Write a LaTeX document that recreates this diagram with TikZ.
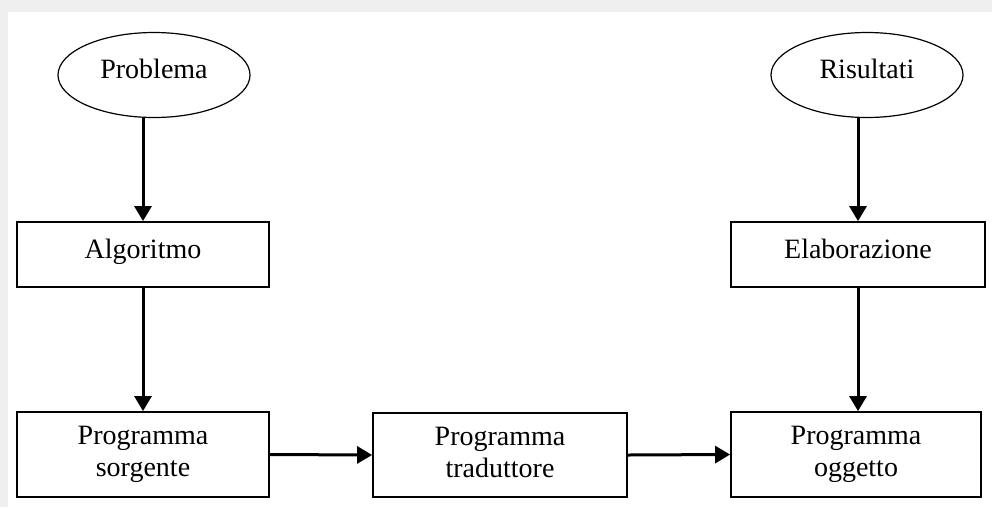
\documentclass[tikz,border=0pt]{standalone}
\usepackage{fontspec}
\setmainfont{Liberation Serif}
\usetikzlibrary{arrows.meta,shapes.geometric}
\definecolor{framegray}{HTML}{EFEFEF}
\tikzset{
  txt/.style={font=\fontsize{28}{32}\selectfont},
  oval/.style={ellipse,draw,line width=1.2pt,minimum width=192pt,minimum height=85pt,inner sep=0pt,txt,text height=14pt,text depth=8pt},
  box/.style={rectangle,draw,line width=1.8pt,inner sep=0pt,align=center,txt},
  onebox/.style={box,text height=14pt,text depth=7pt},
  arr/.style={line width=3pt,-{Triangle[length=15pt,width=17pt]}}
}
\begin{document}
\begin{tikzpicture}[x=1pt,y=-1pt]
\useasboundingbox (0,0) rectangle (992,507);
\fill[framegray] (0,0) rectangle (992,507);
\fill[white] (8,12) rectangle (992,507);
\node[oval] (prob) at (154,75) {Problema};
\node[oval] (ris) at (867,75) {Risultati};
\node[onebox,minimum width=252pt,minimum height=65pt] (alg) at (143,254.5) {Algoritmo};
\node[onebox,minimum width=254pt,minimum height=65pt] (ela) at (858,254.5) {Elaborazione};
\node[box,minimum width=252pt,minimum height=85pt] (sor) at (143,454.5) {\strut Programma\\sorgente\strut};
\node[box,minimum width=254pt,minimum height=84pt] (tra) at (500,455) {\strut Programma\\traduttore\strut};
\node[box,minimum width=250pt,minimum height=85pt] (ogg) at (856,454.5) {\strut Programma\\oggetto\strut};
\draw[arr] (alg.north |- prob.south) -- (alg.north);
\draw[arr] (ela.north |- ris.south) -- (ela.north);
\draw[arr] (alg.south) -- (sor.north);
\draw[arr] (ela.south) -- (ela.south |- ogg.north);
\draw[arr] (sor.east) -- (tra.west);
\draw[arr] (tra.east) -- (ogg.west);
\end{tikzpicture}
\end{document}
